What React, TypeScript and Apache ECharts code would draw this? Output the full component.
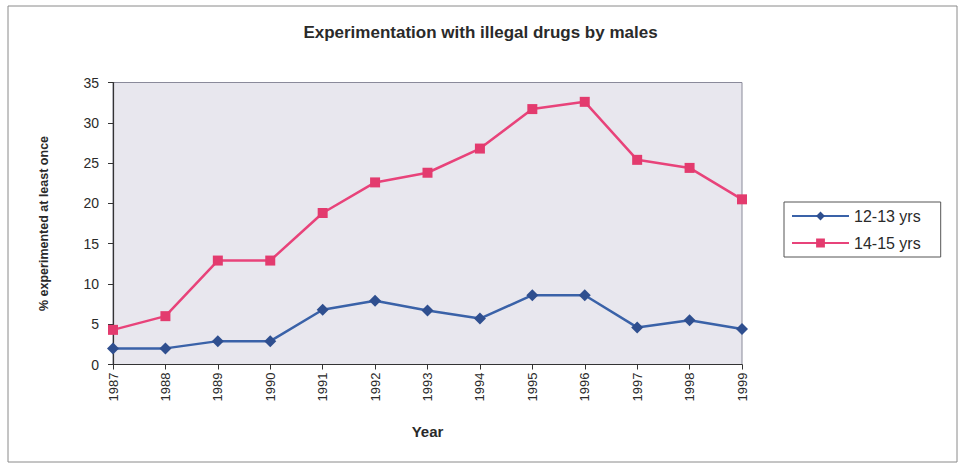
import React, { useEffect, useRef } from "react";
import * as echarts from "echarts";

const years = ["1987", "1988", "1989", "1990", "1991", "1992", "1993", "1994", "1995", "1996", "1997", "1998", "1999"];
const males12to13 = [2.0, 2.0, 2.9, 2.9, 6.8, 7.9, 6.7, 5.7, 8.6, 8.6, 4.6, 5.5, 4.4];
const males14to15 = [4.3, 6.0, 12.9, 12.9, 18.8, 22.6, 23.8, 26.8, 31.7, 32.6, 25.4, 24.4, 20.5];
const yTicks = { min: 0, max: 35, interval: 5 };

const FONT = "Arial, 'Liberation Sans', Helvetica, sans-serif";

export default function App() {
  const ref = useRef<HTMLDivElement>(null);
  useEffect(() => {
    document.body.style.margin = "0";
    const chart = echarts.init(ref.current!, null, { renderer: "svg" });
    chart.setOption({
      animation: false,
      backgroundColor: "#ffffff",
      title: {
        text: "Experimentation with illegal drugs by males",
        left: "center",
        top: 19,
        textStyle: { fontFamily: FONT, fontSize: 17, fontWeight: "bold", color: "#2a2a2a" },
      },
      graphic: [
        {
          type: "rect",
          shape: { x: 8, y: 6, width: 949, height: 456 },
          style: { fill: "none", stroke: "#8a8a8a", lineWidth: 1 },
          silent: true,
        },
      ],
      legend: {
        orient: "vertical",
        left: 784,
        top: 202,
        padding: [6, 20, 6, 7],
        itemWidth: 57,
        itemHeight: 11,
        itemGap: 11,
        borderColor: "#555",
        borderWidth: 1,
        textStyle: { fontFamily: FONT, fontSize: 16, color: "#2a2a2a" },
        data: ["12-13 yrs", "14-15 yrs"],
      },
      grid: {
        left: 113,
        top: 82.5,
        right: 219,
        bottom: 101.5,
        show: true,
        backgroundColor: "#e8e7ee",
        borderColor: "#8a8a9a",
        borderWidth: 1,
      },
      xAxis: {
        type: "category",
        data: years,
        boundaryGap: false,
        name: "Year",
        nameLocation: "middle",
        nameGap: 59,
        nameTextStyle: { fontFamily: FONT, fontSize: 15, fontWeight: "bold", color: "#2a2a2a" },
        axisLine: { lineStyle: { color: "#333", width: 1.2 } },
        axisTick: { alignWithLabel: true, length: 5, lineStyle: { color: "#333" } },
        axisLabel: { rotate: 90, margin: 8, fontFamily: FONT, fontSize: 13, color: "#2a2a2a" },
        splitLine: { show: false },
      },
      yAxis: {
        type: "value",
        min: yTicks.min,
        max: yTicks.max,
        interval: yTicks.interval,
        name: "% experimented at least once",
        nameLocation: "middle",
        nameGap: 63,
        nameTextStyle: { fontFamily: FONT, fontSize: 12.5, fontWeight: "bold", color: "#2a2a2a" },
        axisLine: { show: true, lineStyle: { color: "#333", width: 1.2 } },
        axisTick: { show: true, length: 5, lineStyle: { color: "#333" } },
        axisLabel: { margin: 14, fontFamily: FONT, fontSize: 14, color: "#2a2a2a" },
        splitLine: { show: false },
      },
      series: [
        {
          name: "12-13 yrs",
          type: "line",
          data: males12to13,
          symbol: "diamond",
          symbolSize: 12,
          itemStyle: { color: "#2f4f8f" },
          lineStyle: { color: "#3a62a8", width: 2.5 },
        },
        {
          name: "14-15 yrs",
          type: "line",
          data: males14to15,
          symbol: "rect",
          symbolSize: 10,
          itemStyle: { color: "#e33b6e" },
          lineStyle: { color: "#e8437a", width: 2.5 },
        },
      ],
    });
    return () => chart.dispose();
  }, []);
  return <div ref={ref} style={{ width: 961, height: 466 }} />;
}
